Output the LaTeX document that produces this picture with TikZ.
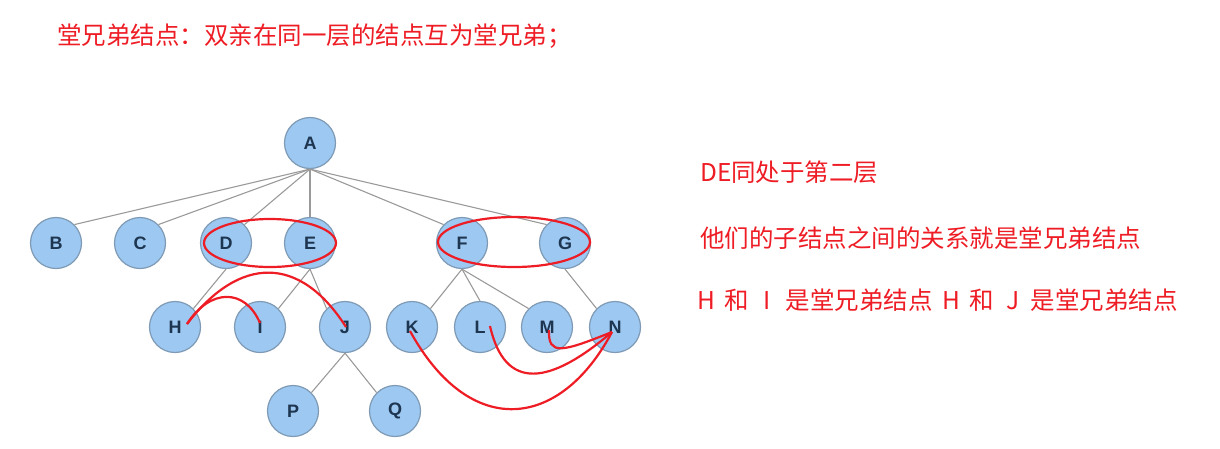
\documentclass[tikz,border=0pt]{standalone}
\usepackage{fontspec}
\newfontfamily\cjk{Noto Sans CJK SC}
\setsansfont{Liberation Sans}
\usetikzlibrary{shapes.geometric}
\definecolor{nodefill}{HTML}{9CC8F2}
\definecolor{nodeline}{HTML}{7E9AB4}
\definecolor{nodetext}{HTML}{1E3550}
\definecolor{edgecol}{HTML}{9A9A9A}
\definecolor{redmark}{HTML}{EE1C24}
\newcommand{\hw}[1]{\makebox[0.5em]{#1}}
\newcommand{\hs}{\hspace{0.5em}}
\tikzset{
  tn/.style={circle, minimum size=51pt, inner sep=0pt, fill=nodefill, draw=nodeline, line width=1.2pt,
    text=nodetext, font=\sffamily\bfseries\fontsize{18}{18}\selectfont},
  edge/.style={draw=edgecol, line width=1.1pt},
  redline/.style={draw=redmark, line width=2.2pt},
  redtext/.style={text=redmark, anchor=west, inner sep=0pt, font=\cjk\fontsize{24.5}{28}\selectfont}
}
\begin{document}
\begin{tikzpicture}[x=1pt,y=-1pt]
\useasboundingbox (0,0) rectangle (1220,448);
% nodes
\node[tn] (A) at (310,143) {A};
\node[tn] (B) at (56,243) {B};
\node[tn] (C) at (140,243) {C};
\node[tn] (D) at (226,243) {D};
\node[tn] (E) at (310,243) {E};
\node[tn] (F) at (462,243) {F};
\node[tn] (G) at (565,243) {G};
\node[tn] (H) at (175,327) {H};
\node[tn] (I) at (260,327) {I};
\node[tn] (J) at (345,327) {J};
\node[tn] (K) at (412,327) {K};
\node[tn] (L) at (480,327) {L};
\node[tn] (M) at (547,327) {M};
\node[tn] (N) at (615,327) {N};
\node[tn] (P) at (293,411) {P};
\node[tn] (Q) at (395,411) {Q};
% edges
\draw[edge] (A.south) -- (B.north east);
\draw[edge] (A.south) -- (C.north east);
\draw[edge] (A.south) -- (D.north east);
\draw[edge] (A.south) -- (E.north);
\draw[edge] (A.south) -- (F.north west);
\draw[edge] (A.south) -- (G.north west);
\draw[edge] (D.south) -- (H.north east);
\draw[edge] (E.south) -- (I.north east);
\draw[edge] (E.south) -- (J.north west);
\draw[edge] (F.south) -- (K.north east);
\draw[edge] (F.south) -- (L.north);
\draw[edge] (F.south) -- (M.north west);
\draw[edge] (G.south) -- (N.north west);
\draw[edge] (J.south) -- (P.north east);
\draw[edge] (J.south) -- (Q.north west);
% red marks
\node[redline, ellipse, minimum width=132pt, minimum height=48pt, inner sep=0pt] (DE) at (270,243) {};
\node[redline, ellipse, minimum width=152pt, minimum height=50pt, inner sep=0pt] (FG) at (514,242) {};
\coordinate (h1) at (187,324);
\coordinate (i1) at (260,323);
\coordinate (j1) at (346,327);
\coordinate (k1) at (410,331);
\coordinate (l1) at (490,326);
\coordinate (m1) at (549,330);
\coordinate (n1) at (612,332);
\draw[redline] (h1) .. controls (240,255) and (300,255) .. (j1);
\draw[redline] (h1) .. controls (210,288) and (245,288) .. (i1);
\draw[redline] (k1) .. controls (470,440) and (560,430) .. (n1);
\draw[redline] (l1) .. controls (505,392) and (550,385) .. (n1);
\draw[redline] (m1) .. controls (548,356) and (562,352) .. (n1);
% texts
\node[redtext] (title) at (57,36) {堂兄弟结点：双亲在同一层的结点互为堂兄弟；};
\node[redtext] (t1) at (700,172) {DE同处于第二层};
\node[redtext] (t2) at (700,238) {他们的子结点之间的关系就是堂兄弟结点};
\node[redtext] (t3) at (700,300) {\hw{H}\hs 和\hs\hw{I}\hs 是堂兄弟结点\hs\hw{H}\hs 和\hs\hw{J}\hs 是堂兄弟结点};
\end{tikzpicture}
\end{document}
